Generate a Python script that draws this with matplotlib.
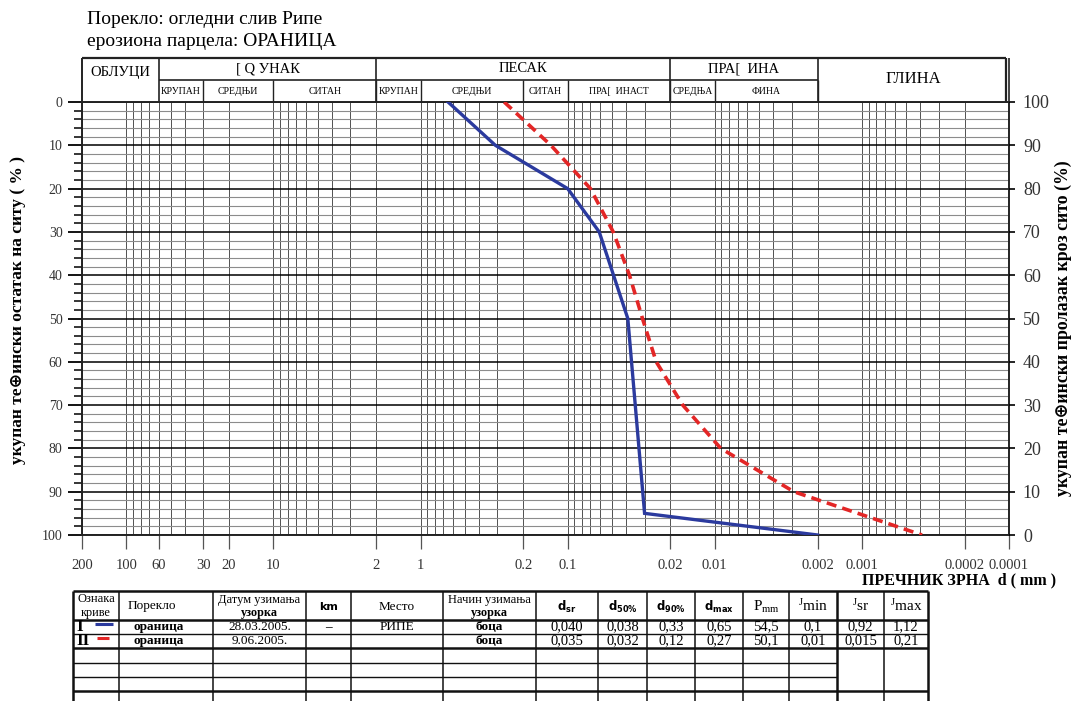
import matplotlib
matplotlib.use('Agg')
import matplotlib.pyplot as plt
import numpy as np
from matplotlib.ticker import FixedLocator, LogLocator, MultipleLocator, NullFormatter

plt.rcParams['font.family'] = ['Liberation Serif', 'DejaVu Sans']
plt.rcParams['mathtext.fontset'] = 'custom'
plt.rcParams['mathtext.rm'] = 'Liberation Serif'
plt.rcParams['mathtext.bf'] = 'DejaVu Sans:bold'

# ---------------- data ----------------
blue_retained = [0, 10, 20, 30, 50, 95, 100]
blue_d = [0.65, 0.31, 0.10, 0.061, 0.039, 0.030, 0.002]

red_retained = [0, 10, 20, 30, 40, 50, 60, 70, 80, 90, 100]
red_d = [0.27, 0.13, 0.070, 0.049, 0.038, 0.031, 0.025, 0.0165, 0.0091, 0.0029, 0.00039]

x_tick_values = [200, 100, 60, 30, 20, 10, 2, 1, 0.2, 0.1, 0.02, 0.01, 0.002, 0.001, 0.0002, 0.0001]
x_tick_labels = ['200', '100', '60', '30', '20', '10', '2', '1', '0.2', '0.1',
                 '0.02', '0.01', '0.002', '0.001', '0.0002', '0.0001']

main_classes = [("ОБЛУЦИ", 200, 60), ("[ Q УНАК", 60, 2), ("ПЕСАК", 2, 0.02),
                ("ПРА[  ИНА", 0.02, 0.002), ("ГЛИНА", 0.002, 0.0001)]
sub_classes = [("КРУПАН", 60, 30), ("СРЕДЊИ", 30, 10), ("СИТАН", 10, 2),
               ("КРУПАН", 2, 1), ("СРЕДЊИ", 1, 0.2), ("СИТАН", 0.2, 0.1),
               ("ПРА[  ИНАСТ", 0.1, 0.02), ("СРЕДЊА", 0.02, 0.01), ("ФИНА", 0.01, 0.002)]

title_lines = ["Порекло: огледни слив Рипе", "ерозиона парцела: ОРАНИЦА"]
left_label = "укупан те⊕ински остатак на ситу ( % )"
right_label = "укупан те⊕ински пролазак кроз сито (%)"
x_label = "ПРЕЧНИК ЗРНА  d ( mm )"

table_header = ["Ознака\nкриве", "Порекло", "Датум узимања\nузорка", "km", "Место",
                "Начин узимања\nузорка", r"$\mathbf{d}_{\mathbf{sr}}$", r"$\mathbf{d}_{\mathbf{50\%}}$",
                r"$\mathbf{d}_{\mathbf{90\%}}$", r"$\mathbf{d}_{\mathbf{max}}$", r"$\mathrm{P_{mm}}$",
                r"$\mathrm{{}^{J}min}$", r"$\mathrm{{}^{J}sr}$", r"$\mathrm{{}^{J}max}$"]
row1 = ["I", "ораница", "28.03.2005.", "–", "РИПЕ", "боца", "0,040", "0,038", "0,33", "0,65", "54,5", "0,1", "0,92", "1,12"]
row2 = ["II", "ораница", "9.06.2005.", "", "", "боца", "0,035", "0,032", "0,12", "0,27", "50,1", "0,01", "0,015", "0,21"]

blue_c = '#2B3A9E'
red_c = '#E32626'

# ---------------- layout ----------------
W, H = 1071, 701
fig = plt.figure(figsize=(W / 100, H / 100), dpi=100)
fig.patch.set_facecolor('white')

L, R, T, B = 82, 1009, 102, 535
HT = 58

ov = fig.add_axes([0, 0, 1, 1])
ov.set_xlim(0, W)
ov.set_ylim(H, 0)
ov.axis('off')
ov.patch.set_visible(False)

ax = fig.add_axes([L / W, 1 - B / H, (R - L) / W, (B - T) / H])
ax.set_xscale('log')
ax.set_xlim(200, 0.0001)
ax.set_ylim(100, 0)
ax.xaxis.set_major_locator(FixedLocator(x_tick_values))
ax.set_xticklabels(x_tick_labels)
ax.xaxis.set_minor_locator(LogLocator(base=10, subs=np.arange(1, 10), numticks=60))
ax.xaxis.set_minor_formatter(NullFormatter())
ax.yaxis.set_major_locator(MultipleLocator(10))
ax.yaxis.set_minor_locator(MultipleLocator(2))
ax.tick_params(axis='x', which='major', direction='out', length=10, width=0.9,
               pad=7, labelsize=10.5, labelcolor='#333333', color='#555555')
ax.tick_params(axis='x', which='minor', length=0)
ax.tick_params(axis='y', which='major', direction='out', length=10, width=1.3,
               pad=4, labelsize=10, labelcolor='#333333')
ax.tick_params(axis='y', which='minor', direction='out', length=6, width=1.1)
ax.grid(True, axis='x', which='both', color='#505050', lw=0.7)
ax.grid(True, axis='y', which='major', color='black', lw=1.1)
ax.grid(True, axis='y', which='minor', color='#8c8c8c', lw=0.8)
for s in ax.spines.values():
    s.set_linewidth(1.4)
    s.set_color('#222222')

ax.plot(blue_d, blue_retained, color=blue_c, lw=2.4, zorder=4, solid_joinstyle='miter')
ax.plot(red_d, red_retained, color=red_c, lw=2.6, ls=(0, (2.8, 1.7)), zorder=4)

ax2 = ax.twinx()
ax2.set_ylim(0, 100)
ax2.yaxis.set_major_locator(MultipleLocator(10))
ax2.tick_params(axis='y', direction='out', length=4, width=1.2, pad=6,
                labelsize=13, labelcolor='#333333')
for s in ax2.spines.values():
    s.set_visible(False)

# ---------------- header table ----------------
hax = fig.add_axes([L / W, 1 - T / H, (R - 3 - L) / W, (T - HT) / H])
hax.set_xscale('log')
hax.set_xlim(200, 0.0001 * (10 ** (3 / 147.0)))
hax.set_ylim(0, 1)
hax.axis('off')
xl, xr = hax.get_xlim()
kw = dict(color='#222222', clip_on=False, solid_capstyle='butt')
hax.plot([xl, xr], [1, 1], lw=1.6, **kw)
hax.plot([xl, xl], [0, 1], lw=1.4, **kw)
hax.plot([xr, xr], [0, 1], lw=1.6, **kw)
for name, a, b in main_classes:
    hax.plot([b, b], [0, 1], lw=1.2, **kw)
hax.plot([60, 0.002], [0.5, 0.5], lw=1.2, **kw)
for name, a, b in sub_classes:
    hax.plot([b, b], [0, 0.5], lw=1.0, **kw)
for name, a, b in main_classes:
    xc = np.sqrt(a * b)
    if name == "ОБЛУЦИ":
        hax.text(xc, 0.66, name, ha='center', va='center', fontsize=10.5)
    elif name == "ГЛИНА":
        hax.text(xc, 0.52, name, ha='center', va='center', fontsize=12)
    else:
        hax.text(xc, 0.76, name, ha='center', va='center', fontsize=10.5)
for name, a, b in sub_classes:
    hax.text(np.sqrt(a * b), 0.24, name, ha='center', va='center', fontsize=7)

# ---------------- texts ----------------
ov.text(87, 20, title_lines[0], fontsize=14, va='center', ha='left')
ov.text(87, 42, title_lines[1], fontsize=14, va='center', ha='left')
ov.text(18, 310, left_label, rotation=90, fontsize=12.5, fontweight='bold',
        ha='center', va='center')
ov.text(1063, 328, right_label, rotation=90, fontsize=12.8, fontweight='bold',
        ha='center', va='center')
ov.text(1056, 580, x_label, fontsize=11.5, fontweight='bold', ha='right', va='center')

# ---------------- bottom table ----------------
col_edges = [73, 119, 213, 306, 351, 443, 536, 598, 647, 695, 743, 789, 837, 884, 928]
row_edges = [591, 620, 634, 648, 663, 677, 691, 712]
tk = dict(color='#111111', solid_capstyle='butt')
for i, y in enumerate(row_edges[:-1]):
    lw = 1.8 if i in (0, 1, 3, 6) else 1.0
    if i in (4, 5):
        ov.plot([col_edges[0], col_edges[12]], [y, y], lw=lw, **tk)
    else:
        ov.plot([col_edges[0], col_edges[-1]], [y, y], lw=lw, **tk)
for j, x in enumerate(col_edges):
    lw = 1.8 if j in (0, 12, 14) else 1.1
    ov.plot([x, x], [row_edges[0], row_edges[-1]], lw=lw, **tk)

centers = [(col_edges[k] + col_edges[k + 1]) / 2 for k in range(len(col_edges) - 1)]
yh = (row_edges[0] + row_edges[1]) / 2
for k, txt in enumerate(table_header):
    xc = centers[k]
    if k == 1:
        xc = 152
    if k == 3:
        ov.text(xc, yh + 1, txt, ha='center', va='center', fontsize=8,
                family='DejaVu Sans', fontweight='bold')
    elif '\n' in txt:
        l1, l2 = txt.split('\n')
        ov.text(xc, yh - 6, l1, ha='center', va='center', fontsize=9)
        ov.text(xc, yh + 7.5, l2, ha='center', va='center', fontsize=8.8,
                fontweight='bold' if k != 0 else 'normal')
    elif txt.startswith('$'):
        fs = 8.5 if 'mathbf' in txt else 11
        ov.text(xc, yh + 1, txt, ha='center', va='center', fontsize=fs)
    else:
        ov.text(xc, yh + 1, txt, ha='center', va='center', fontsize=9.5)

bold_cols = {1, 3, 5}
for r, (row, yc, col) in enumerate([(row1, 627, blue_c), (row2, 641, red_c)]):
    for k, txt in enumerate(row):
        if k == 0:
            ov.text(col_edges[0] + 3, yc, txt, ha='left', va='center', fontsize=12.5,
                    fontweight='bold')
            continue
        if txt == "":
            continue
        fw = 'bold' if k in bold_cols else 'normal'
        fs = 9.5 if k < 6 else 10.5
        xc = 159 if k == 1 else centers[k]
        ov.text(xc, yc, txt, ha='center', va='center', fontsize=fs, fontweight=fw)

# legend swatches in table
ov.plot([95, 113], [623.5, 623.5], color=blue_c, lw=2.2, solid_capstyle='butt')
ov.plot([97, 109], [638, 638], color=red_c, lw=2.2, solid_capstyle='butt')

fig.savefig('out.png', dpi=100)
